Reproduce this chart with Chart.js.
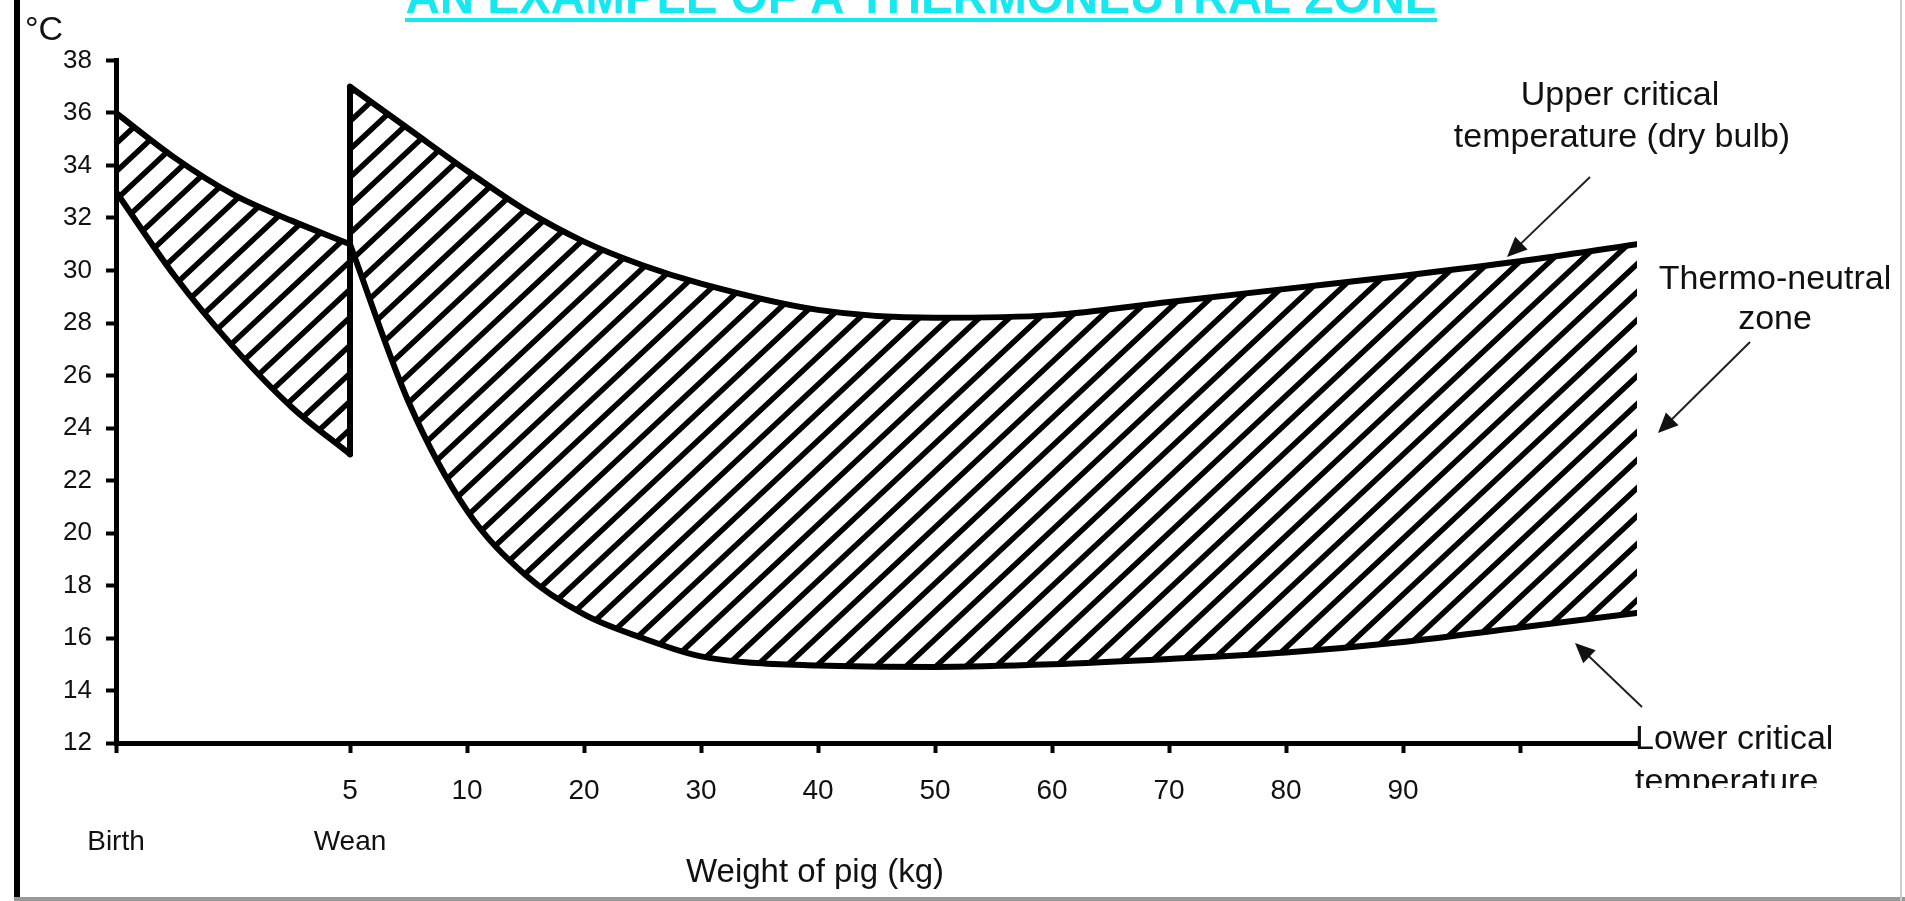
<!DOCTYPE html>
<html>
<head>
<meta charset="utf-8">
<script src="https://cdn.jsdelivr.net/npm/chart.js@4.4.1/dist/chart.umd.min.js"></script>
<style>
  html, body { margin: 0; padding: 0; background: #fff; }
  canvas { display: block; }
</style>
</head>
<body>
<canvas id="chart" width="1905" height="901"></canvas>
<script>
// Weight axis: one step per tick, Birth = 0, Wean = 2
const xTickPos = [0, 2, 3, 4, 5, 6, 7, 8, 9, 10, 11, 12]
const xTickLabels = ['', '5', '10', '20', '30', '40', '50', '60', '70', '80', '90', '']
const xTickStages = ['Birth', 'Wean']

// Suckling piglet, birth to weaning
const sucklingX = [0, 0.5, 1, 1.5, 2]
const sucklingUpper = [36, 34.3, 32.9, 31.9, 31]
const sucklingLower = [33, 29.8, 27.1, 24.8, 23]

// After weaning
const growerX = [2, 2.5, 3, 3.5, 4, 4.5, 5, 6, 7, 8, 9, 10, 11, 12, 13]
const growerUpper = [37, 35.4, 33.8, 32.3, 31.1, 30.2, 29.5, 28.5, 28.2, 28.3, 28.8, 29.3, 29.8, 30.35, 31.0]
const growerLower = [31, 25.0, 20.85, 18.4, 16.9, 16.0, 15.3, 14.95, 14.9, 15.0, 15.2, 15.45, 15.85, 16.4, 16.95]

// Jump of the critical temperatures at weaning
const weanX = [2, 2]
const weanTemps = [23, 37]

const FONT = "'Liberation Sans', Arial, sans-serif"

function points(xs, ys) {
  return xs.map((x, i) => ({ x: x, y: ys[i] }))
}

// diagonal hatching "/" used for the zone
function hatchPattern() {
  const w = 30, h = 28
  const c = document.createElement('canvas')
  c.width = w
  c.height = h
  const g = c.getContext('2d')
  g.strokeStyle = '#000'
  g.lineWidth = 5.5
  g.beginPath()
  // lines run past the tile so the copies join without gaps
  for (let k = -1; k <= 1; k++) {
    g.moveTo(k * w - w, 2 * h)
    g.lineTo(k * w + 2 * w, -h)
  }
  g.stroke()
  return g.createPattern(c, 'repeat')
}

function arrow(ctx, x1, y1, x2, y2) {
  const a = Math.atan2(y2 - y1, x2 - x1)
  const len = 20, half = 9
  ctx.strokeStyle = '#222'
  ctx.fillStyle = '#111'
  ctx.lineWidth = 2
  ctx.beginPath()
  ctx.moveTo(x1, y1)
  ctx.lineTo(x2 - Math.cos(a) * len * 0.8, y2 - Math.sin(a) * len * 0.8)
  ctx.stroke()
  ctx.beginPath()
  ctx.moveTo(x2, y2)
  ctx.lineTo(x2 - Math.cos(a) * len - Math.sin(a) * half, y2 - Math.sin(a) * len + Math.cos(a) * half)
  ctx.lineTo(x2 - Math.cos(a) * len + Math.sin(a) * half, y2 - Math.sin(a) * len - Math.cos(a) * half)
  ctx.closePath()
  ctx.fill()
}

const decorations = {
  id: 'decorations',
  afterDraw(chart) {
    const ctx = chart.ctx
    ctx.save()

    // frame
    ctx.fillStyle = '#000'
    ctx.fillRect(14, 0, 6, 901)
    ctx.fillStyle = '#999'
    ctx.fillRect(14, 897, 1891, 4)
    ctx.fillStyle = '#ccc'
    ctx.fillRect(1900, 0, 2, 901)

    // heading, cut by the top of the picture
    const heading = 'AN EXAMPLE OF A THERMONEUTRAL ZONE'
    ctx.fillStyle = '#16e8f0'
    ctx.font = 'bold 44px ' + FONT
    const hw = ctx.measureText(heading).width
    const size = 44 * 1032 / hw
    ctx.font = 'bold ' + size.toFixed(1) + 'px ' + FONT
    ctx.textAlign = 'center'
    ctx.textBaseline = 'alphabetic'
    ctx.fillText(heading, 921, 13)
    ctx.fillRect(405, 18, 1032, 4)

    // unit
    ctx.fillStyle = '#111'
    ctx.textAlign = 'left'
    ctx.font = '34px ' + FONT
    ctx.fillText('°C', 25, 40)

    // axis name
    ctx.textAlign = 'center'
    ctx.textBaseline = 'middle'
    ctx.font = '33px ' + FONT
    ctx.fillText('Weight of pig (kg)', 815, 873)

    // notes
    ctx.font = '34px ' + FONT
    ctx.fillText('Upper critical', 1620, 96)
    ctx.fillText('temperature (dry bulb)', 1622, 138)
    ctx.fillText('Thermo-neutral', 1775, 280)
    ctx.fillText('zone', 1775, 320)

    ctx.textAlign = 'left'
    ctx.textBaseline = 'alphabetic'
    ctx.fillText('Lower critical', 1635, 749)
    ctx.save()
    ctx.beginPath()
    ctx.rect(1600, 755, 300, 33)
    ctx.clip()
    ctx.fillText('temperature', 1635, 792)
    ctx.restore()

    arrow(ctx, 1590, 177, 1507, 257)
    arrow(ctx, 1750, 342, 1658, 433)
    arrow(ctx, 1642, 707, 1575, 643)

    ctx.restore()
  }
}

const hatch = hatchPattern()

const line = {
  borderColor: '#000',
  borderWidth: 6,
  pointRadius: 0,
  cubicInterpolationMode: 'monotone',
  borderJoinStyle: 'round',
  borderCapStyle: 'round'
}

new Chart(document.getElementById('chart').getContext('2d'), {
  type: 'line',
  data: {
    datasets: [
      Object.assign({}, line, { label: 'Upper (suckling)', data: points(sucklingX, sucklingUpper), fill: '+1', backgroundColor: hatch }),
      Object.assign({}, line, { label: 'Lower (suckling)', data: points(sucklingX, sucklingLower), fill: false }),
      Object.assign({}, line, { label: 'Upper critical temperature', data: points(growerX, growerUpper), fill: '+1', backgroundColor: hatch }),
      Object.assign({}, line, { label: 'Lower critical temperature', data: points(growerX, growerLower), fill: false }),
      Object.assign({}, line, { label: 'Weaning', data: points(weanX, weanTemps), fill: false, borderWidth: 6, cubicInterpolationMode: 'default', tension: 0 })
    ]
  },
  options: {
    responsive: false,
    animation: false,
    layout: {
      padding: { top: 60.5, right: 268, left: 0, bottom: 0 }
    },
    plugins: {
      legend: { display: false },
      tooltip: { enabled: false },
      title: { display: false }
    },
    scales: {
      x: {
        type: 'linear',
        min: 0,
        max: 13,
        afterFit(scale) { scale.height = 158 },
        afterBuildTicks(scale) {
          scale.ticks = xTickPos.map(v => ({ value: v }))
        },
        border: { display: true, color: '#000', width: 5 },
        grid: { drawOnChartArea: false, drawTicks: true, tickLength: 10, tickWidth: 4, tickColor: '#000' },
        ticks: {
          autoSkip: false,
          maxRotation: 0,
          padding: 12,
          color: '#111',
          font: { family: FONT, size: 28, lineHeight: 1.85 },
          callback: function(value) {
            const i = xTickPos.indexOf(value)
            if (i < 0) return ''
            if (i < xTickStages.length) return [xTickLabels[i], xTickStages[i]]
            return xTickLabels[i]
          }
        }
      },
      y: {
        min: 12,
        max: 38,
        afterFit(scale) { scale.width = 116 },
        border: { display: true, color: '#000', width: 5 },
        grid: { drawOnChartArea: false, drawTicks: true, tickLength: 10, tickWidth: 4, tickColor: '#000' },
        ticks: {
          stepSize: 2,
          padding: 14,
          color: '#111',
          font: { family: FONT, size: 26 }
        }
      }
    }
  },
  plugins: [decorations]
})
</script>
</body>
</html>
